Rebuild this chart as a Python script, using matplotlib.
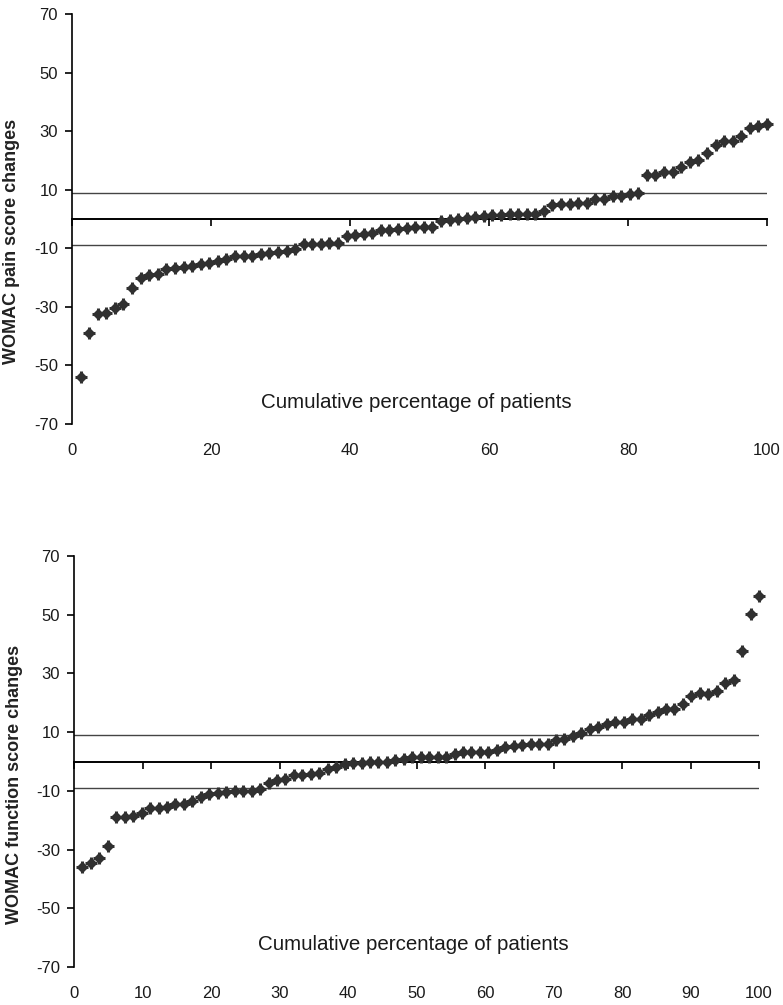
import numpy as np
import matplotlib
matplotlib.use('Agg')
import matplotlib.pyplot as plt

plt.rcParams['axes.unicode_minus'] = False

# WOMAC score changes per patient, sorted
pain_changes = [-54, -39, -32.5, -32.1, -30.4, -29.1, -23.7, -20.2, -19.2, -18.8,
                -17.2, -16.7, -16.4, -16.1, -15.4, -14.9, -14.4, -13.8, -12.7, -12.6,
                -12.6, -12.0, -11.6, -11.1, -10.8, -10.2, -8.5, -8.5, -8.4, -8.3,
                -8.1, -5.7, -5.5, -5.2, -4.7, -3.9, -3.7, -3.4, -3.1, -2.9,
                -2.7, -2.7, -0.7, -0.2, -0.1, 0.2, 0.6, 1.1, 1.2, 1.4,
                1.6, 1.8, 1.8, 1.8, 2.9, 4.7, 5.1, 5.1, 5.5, 5.5,
                6.8, 6.8, 7.9, 7.9, 8.5, 8.8, 15.1, 15.1, 16.2, 16.2,
                17.9, 19.3, 20.2, 22.6, 25.4, 26.6, 26.8, 28.2, 31.1, 31.7, 32.6]

function_changes = [-35.8, -34.7, -33.0, -28.7, -18.8, -18.8, -18.6, -17.6, -16.0, -15.8,
                    -15.5, -14.6, -14.4, -13.4, -12.0, -11.0, -10.7, -10.3, -10.1, -10.1,
                    -10.0, -9.5, -7.4, -6.3, -6.0, -4.7, -4.6, -4.4, -3.8, -2.6,
                    -1.9, -0.8, -0.6, -0.5, -0.2, -0.1, 0.0, 0.4, 1.0, 1.4,
                    1.4, 1.6, 1.7, 1.7, 2.4, 3.1, 3.1, 3.3, 3.4, 3.8,
                    5.0, 5.2, 5.5, 5.8, 6.1, 6.1, 7.4, 7.6, 8.7, 9.7,
                    11.0, 11.6, 12.9, 13.3, 13.3, 14.4, 14.6, 15.7, 16.9, 17.8,
                    18.0, 19.7, 22.3, 23.2, 23.1, 23.9, 26.9, 27.6, 37.5, 50.2, 56.5]

y_ticks = [-70, -50, -30, -10, 10, 30, 50, 70]
mcid = [9, -9]
top_xticks = [0, 20, 40, 60, 80, 100]
bottom_xticks = [0, 10, 20, 30, 40, 50, 60, 70, 80, 90, 100]

W, H = 783, 1005
fig = plt.figure(figsize=(W / 100, H / 100), dpi=100)

tick_font = dict(family='Liberation Sans', size=12, color='#1a1a1a')
mark_color = '#303030'


def draw(rect, values, xticks, ylabel):
    ax = fig.add_axes(rect)
    n = len(values)
    pct = 100 * np.arange(1, n + 1) / n
    ax.plot(pct, values, 'D', ms=5.2, color=mark_color, mec=mark_color, zorder=3, clip_on=False)
    ax.plot(pct, values, '+', ms=9, mew=2.2, color=mark_color, zorder=3, clip_on=False)
    for v in mcid:
        ax.axhline(v, color='#444444', lw=1.0, zorder=1)

    ax.set_xlim(0, 100)
    ax.set_ylim(-70, 70)
    ax.spines['top'].set_visible(False)
    ax.spines['right'].set_visible(False)
    ax.spines['bottom'].set_position(('data', 0))
    ax.spines['bottom'].set_linewidth(1.4)
    ax.spines['left'].set_linewidth(1.2)
    ax.set_yticks(y_ticks)
    ax.set_xticks(xticks)
    ax.tick_params(axis='x', direction='out', length=5, width=1.2, labelbottom=False)
    ax.tick_params(axis='y', direction='out', length=5, width=1.2, pad=5)
    for lab in ax.get_yticklabels():
        lab.set(**tick_font)

    # tick labels sit at the bottom of the plot, not on the zero axis
    sec = ax.secondary_xaxis('bottom')
    sec.spines['bottom'].set_visible(False)
    sec.set_xticks(xticks)
    sec.tick_params(length=0, pad=14)
    for lab in sec.get_xticklabels():
        lab.set(**tick_font)

    ax.text(49.5, -62.5, 'Cumulative percentage of patients', ha='center', va='center',
            family='Liberation Sans', size=14.8, color='#1a1a1a')
    ax.set_ylabel(ylabel, family='Liberation Sans', fontweight='bold', size=13, color='#222222')
    ax.yaxis.set_label_coords(-0.075, 0.445)
    return ax


draw([72 / W, 1 - 424 / H, (767 - 72) / W, 410 / H], pain_changes, top_xticks,
     'WOMAC pain score changes')
draw([74 / W, 1 - 967 / H, (759 - 74) / W, 411 / H], function_changes, bottom_xticks,
     'WOMAC function score changes')

fig.savefig('out.png', dpi=100, facecolor='white')
